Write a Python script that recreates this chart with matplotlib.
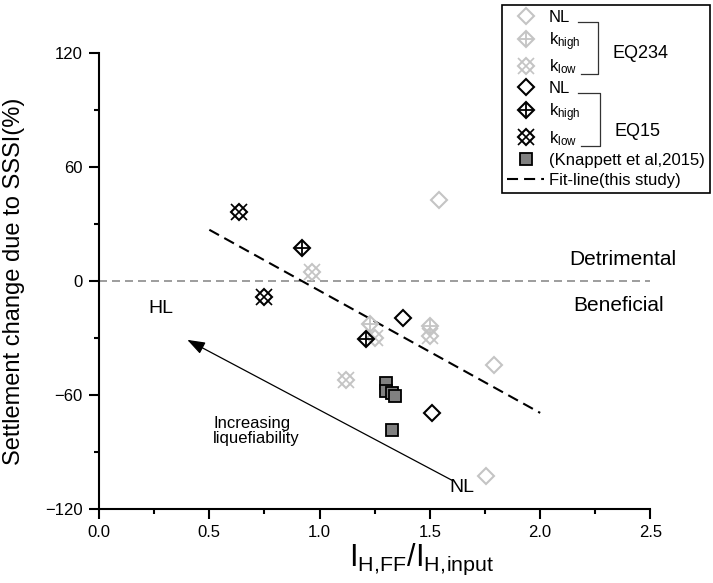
import matplotlib
matplotlib.use('Agg')
import matplotlib.pyplot as plt
from matplotlib.lines import Line2D
from matplotlib.ticker import MultipleLocator

plt.rcParams['font.family'] = ['Liberation Sans', 'DejaVu Sans']
plt.rcParams['mathtext.default'] = 'regular'

# EQ234 results (light grey markers)
eq234_nl_x = [1.54, 1.79, 1.755]
eq234_nl_y = [42.5, -44.5, -103]
eq234_khigh_x = [1.23, 1.50]
eq234_khigh_y = [-22.5, -23.5]
eq234_klow_x = [0.965, 1.25, 1.50, 1.12]
eq234_klow_y = [5, -30, -29, -52]

# EQ15 results (black markers)
eq15_nl_x = [1.38, 1.51]
eq15_nl_y = [-19.5, -69.5]
eq15_khigh_x = [0.92, 1.21]
eq15_khigh_y = [17.5, -30.5]
eq15_klow_x = [0.635, 0.75]
eq15_klow_y = [36.5, -8.5]

# Knappett et al. (2015)
knap_x = [1.30, 1.30, 1.33, 1.34, 1.33]
knap_y = [-54, -58, -59, -60.5, -78.5]

# fit line (this study)
fit_x = [0.5, 2.0]
fit_y = [27, -69.5]

light = '#c4c4c4'
dark = 'black'

fig = plt.figure(figsize=(7.13, 5.83), dpi=100)
ax = fig.add_axes([0.1389, 0.1274, 0.7734, 0.7812])


def diamonds(x, y, c, inner=None, z=3):
    ax.plot(x, y, 'D', ms=8.5, mfc='none', mec=c, mew=1.5, ls='none', zorder=z)
    if inner == '+':
        ax.plot(x, y, '+', ms=12, color=c, mew=1.3, ls='none', zorder=z)
    elif inner == 'x':
        ax.plot(x, y, 'x', ms=12, color=c, mew=1.2, ls='none', zorder=z)


ax.axhline(0, color='#8c8c8c', lw=1.2, ls=(0, (4.8, 3)), zorder=1)
ax.plot(fit_x, fit_y, color='black', lw=1.5, ls=(0, (5.3, 2.9)), zorder=2)

diamonds(eq234_nl_x, eq234_nl_y, light)
diamonds(eq234_khigh_x, eq234_khigh_y, light, '+')
diamonds(eq234_klow_x, eq234_klow_y, light, 'x')
diamonds(eq15_nl_x, eq15_nl_y, dark, z=4)
diamonds(eq15_khigh_x, eq15_khigh_y, dark, '+', z=4)
diamonds(eq15_klow_x, eq15_klow_y, dark, 'x', z=4)
ax.plot(knap_x, knap_y, 's', ms=8, mfc='#808080', mec='black', mew=1.3, ls='none', zorder=5)

# arrow and annotations
ax.annotate('', xy=(0.4, -31), xytext=(1.6, -105),
            arrowprops=dict(arrowstyle='-|>,head_length=0.9,head_width=0.32',
                            color='black', lw=0.9, mutation_scale=12,
                            shrinkA=0, shrinkB=0))
ax.text(0.28, -14.5, 'HL', fontsize=14, ha='center', va='center')
ax.text(1.645, -109, 'NL', fontsize=14, ha='center', va='center')
ax.text(0.517, -79.2, 'Increasing\nliquefiability', fontsize=12,
        ha='left', va='center', linespacing=1.0)
ax.text(2.375, 11.3, 'Detrimental', fontsize=15, ha='center', va='center')
ax.text(2.355, -13, 'Beneficial', fontsize=15, ha='center', va='center')

ax.set_xlim(0, 2.5)
ax.set_ylim(-120, 120)
ax.xaxis.set_major_locator(MultipleLocator(0.5))
ax.xaxis.set_minor_locator(MultipleLocator(0.25))
ax.yaxis.set_major_locator(MultipleLocator(60))
ax.yaxis.set_minor_locator(MultipleLocator(30))
ax.xaxis.set_major_formatter(matplotlib.ticker.FormatStrFormatter('%.1f'))
ax.tick_params(which='major', direction='out', length=7, width=1.5, labelsize=12, pad=5)
ax.tick_params(which='minor', direction='out', length=3.5, width=1.5)
for s in ['top', 'right']:
    ax.spines[s].set_visible(False)
for s in ['left', 'bottom']:
    ax.spines[s].set_linewidth(1.5)

ax.set_ylabel('Settlement change due to SSSI(%)', fontsize=17)
ax.yaxis.set_label_coords(-0.134, 0.5)
ax.set_xlabel(r'$\mathregular{I_{H,\!FF}/I_{H,\!input}}$', fontsize=22)
ax.xaxis.set_label_coords(0.585, -0.072)

# legend
def mk(c, m, ms, mew=1.5):
    return Line2D([], [], ls='none', marker=m, ms=ms, mfc='none', mec=c, color=c, mew=mew)

handles = [
    mk(light, 'D', 8.5),
    (mk(light, 'D', 8.5), mk(light, '+', 12, 1.3)),
    (mk(light, 'D', 8.5), mk(light, 'x', 12, 1.2)),
    mk(dark, 'D', 8.5),
    (mk(dark, 'D', 8.5), mk(dark, '+', 12, 1.3)),
    (mk(dark, 'D', 8.5), mk(dark, 'x', 12, 1.2)),
    Line2D([], [], ls='none', marker='s', ms=8, mfc='#808080', mec='black', mew=1.3),
    Line2D([], [], color='black', lw=1.5, ls=(0, (5.3, 2.9))),
]
labels = ['NL', r'k$_{high}$', r'k$_{low}$', 'NL', r'k$_{high}$', r'k$_{low}$',
          '(Knappett et al,2015)', 'Fit-line(this study)']
leg = fig.legend(handles, labels, loc='upper right',
                 bbox_to_anchor=(710 / 713, 1 - 5 / 583), bbox_transform=fig.transFigure,
                 fontsize=12, numpoints=1, frameon=True, fancybox=False,
                 edgecolor='black', framealpha=1, borderpad=0.3, labelspacing=0.3,
                 handlelength=2.2, handletextpad=0.3, borderaxespad=0)
leg.get_frame().set_linewidth(1.2)

# brackets grouping the legend entries
fig.canvas.draw()
H = fig.bbox.height
W = fig.bbox.width
texts = leg.get_texts()


def bracket(i_top, i_bot, xb, name, dy):
    b1 = texts[i_top].get_window_extent()
    b2 = texts[i_bot].get_window_extent()
    y1 = (b1.y0 + b1.y1) / 2 - 4
    y2 = b2.y0 + 2
    xs = [b1.x1 + 8, xb, xb, b2.x1 + 4]
    ys = [y1, y1, y2, y2]
    fig.add_artist(Line2D([v / W for v in xs], [v / H for v in ys],
                          color='#333333', lw=0.9, transform=fig.transFigure,
                          zorder=10))
    fig.text((xb + 14) / W, ((y1 + y2) / 2 - dy) / H, name, fontsize=13,
             ha='left', va='center', zorder=10)


bracket(0, 2, 598, 'EQ234', 6)
bracket(3, 5, 600, 'EQ15', 12)

fig.savefig('out.png', dpi=100)
